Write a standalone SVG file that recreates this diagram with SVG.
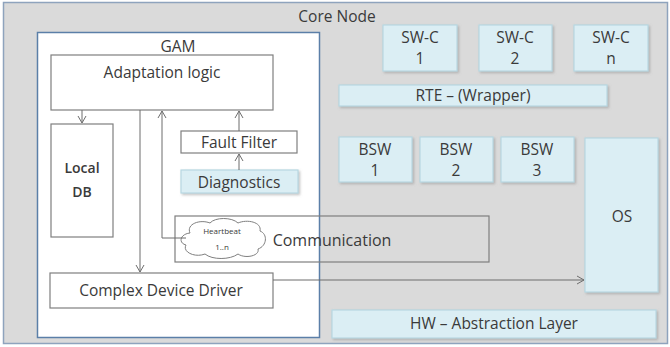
<svg xmlns="http://www.w3.org/2000/svg" width="670" height="347" viewBox="0 0 670 347">
<style>
text{font-family:"Open Sans","Liberation Sans",sans-serif;fill:#3a3a3a;text-anchor:middle}
.t{font-size:15.5px}
.w{fill:#fff;stroke:#7f7f7f;stroke-width:1.2}
.b{fill:#dbeef4;stroke:#b7d7e2;stroke-width:1.2;filter:url(#sh)}
.c{fill:none;stroke:#6d6d6d;stroke-width:1}
</style>
<defs>
<filter id="sh" x="-10%" y="-10%" width="130%" height="140%">
<feDropShadow dx="1.5" dy="1.5" stdDeviation="1" flood-color="#888" flood-opacity="0.5"/>
</filter>
<marker id="ar" markerWidth="10" markerHeight="10" refX="8" refY="5" orient="auto" markerUnits="userSpaceOnUse">
<path d="M1,1 L8,5 L1,9" fill="none" stroke="#6d6d6d" stroke-width="1"/>
</marker>
</defs>
<g id="core">
<rect x="3.5" y="2.5" width="664" height="341" fill="#dadada" stroke="#8ea3bd" stroke-width="1.5"/>
<text class="t" x="337" y="22">Core Node</text>
</g>
<g id="gam">
<rect x="37.5" y="32.5" width="282" height="305" fill="#fff" stroke="#5b7fa8" stroke-width="1.5"/>
<text class="t" x="178" y="52">GAM</text>
</g>
<g id="adaptation">
<rect class="w" x="51" y="55" width="222" height="55"/>
<text class="t" x="162" y="78">Adaptation logic</text>
</g>
<g id="localdb">
<rect class="w" x="51" y="124" width="62" height="113"/>
<text class="t" x="82" y="173" style="font-size:14px;font-weight:600">Local</text>
<text class="t" x="82" y="197" style="font-size:14px;font-weight:600">DB</text>
</g>
<g id="faultfilter">
<rect class="w" x="181" y="131" width="116" height="22"/>
<text class="t" x="239" y="147.5">Fault Filter</text>
</g>
<g id="diagnostics">
<rect class="b" x="181" y="170" width="117" height="23"/>
<text class="t" x="239" y="187.5">Diagnostics</text>
</g>
<g id="communication">
<rect x="175" y="216" width="314" height="46" fill="none" stroke="#7f7f7f" stroke-width="1.2"/>
<text x="332" y="246" font-size="16">Communication</text>
</g>
<g id="heartbeat">
<path d="M190,233 C186,224 200,219 210,223 C215,217 232,217 238,223 C247,219 262,222 260,231 C268,234 267,246 258,249 C260,256 245,259 238,254 C230,260 212,260 205,254 C195,258 182,252 186,245 C178,243 180,234 190,233 Z" fill="#fff" stroke="#7f7f7f" stroke-width="1"/>
<text x="222" y="234" font-size="8">Heartbeat</text>
<text x="222" y="250" font-size="8">1..n</text>
</g>
<g id="cdd">
<rect class="w" x="50" y="273" width="223" height="35"/>
<text class="t" x="161" y="296">Complex Device Driver</text>
</g>
<g id="swc1">
<rect class="b" x="383" y="25" width="74" height="46"/>
<text class="t" x="420" y="43">SW-C</text>
<text class="t" x="420" y="64">1</text>
</g>
<g id="swc2">
<rect class="b" x="479" y="25" width="73" height="46"/>
<text class="t" x="515" y="43">SW-C</text>
<text class="t" x="515" y="64">2</text>
</g>
<g id="swcn">
<rect class="b" x="574" y="25" width="74" height="46"/>
<text class="t" x="611" y="43">SW-C</text>
<text class="t" x="611" y="64">n</text>
</g>
<g id="rte">
<rect class="b" x="339" y="85" width="268" height="21"/>
<text class="t" x="473" y="101">RTE – (Wrapper)</text>
</g>
<g id="bsw1">
<rect class="b" x="339" y="137" width="73" height="45"/>
<text class="t" x="375" y="155">BSW</text>
<text class="t" x="375" y="176">1</text>
</g>
<g id="bsw2">
<rect class="b" x="420" y="137" width="73" height="45"/>
<text class="t" x="456" y="155">BSW</text>
<text class="t" x="456" y="176">2</text>
</g>
<g id="bsw3">
<rect class="b" x="501" y="137" width="73" height="45"/>
<text class="t" x="537" y="155">BSW</text>
<text class="t" x="537" y="176">3</text>
</g>
<g id="os">
<rect class="b" x="585" y="138" width="73" height="154"/>
<text class="t" x="622" y="222">OS</text>
</g>
<g id="hw">
<rect class="b" x="332" y="310" width="324" height="28"/>
<text class="t" x="494" y="329">HW – Abstraction Layer</text>
</g>
<g id="connectors">
<line class="c" x1="82" y1="110" x2="82" y2="123" marker-end="url(#ar)"/>
<line class="c" x1="140" y1="110" x2="140" y2="272" marker-end="url(#ar)"/>
<polyline class="c" points="186,238 162,238 162,111" marker-end="url(#ar)"/>
<line class="c" x1="239" y1="131" x2="239" y2="111" marker-end="url(#ar)"/>
<line class="c" x1="239" y1="170" x2="239" y2="154" marker-end="url(#ar)"/>
<line class="c" x1="273" y1="280" x2="584" y2="280" marker-end="url(#ar)"/>
</g>
</svg>
